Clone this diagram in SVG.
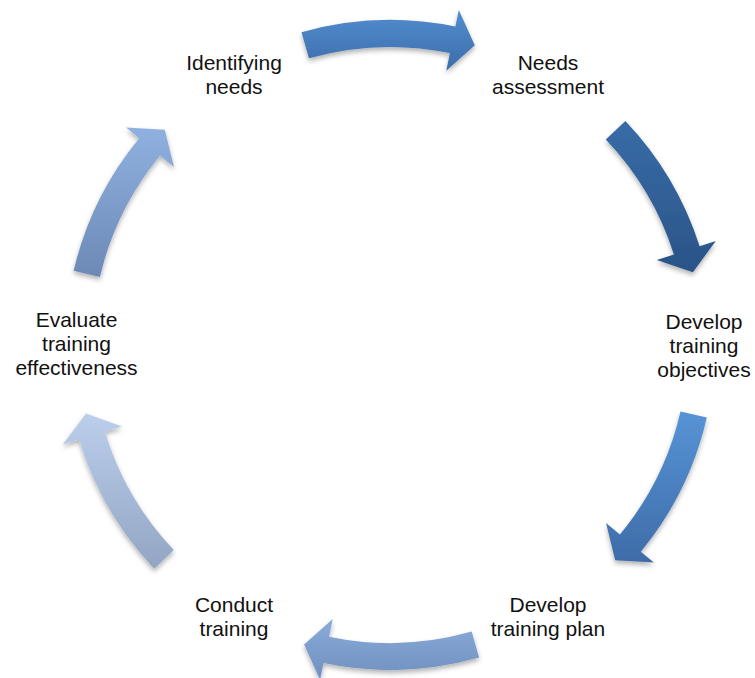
<svg xmlns="http://www.w3.org/2000/svg" width="755" height="678" viewBox="0 0 755 678">
  <style>
    .label { font-family: "Liberation Sans", Arial, sans-serif; font-size: 21px; fill: #111111; text-anchor: middle; }
    .arrow { filter: url(#shade); }
  </style>
  <defs>
    <filter id="shade" x="-20%" y="-20%" width="140%" height="150%">
      <feDropShadow dx="0" dy="3" stdDeviation="2.5" flood-color="#000000" flood-opacity="0.3"/>
    </filter>
    <linearGradient id="g1" x1="0" y1="0" x2="0" y2="1">
      <stop offset="0" stop-color="#538ECF"/>
      <stop offset="1" stop-color="#3C6CAA"/>
    </linearGradient>
    <linearGradient id="g2" x1="0" y1="0" x2="0" y2="1">
      <stop offset="0" stop-color="#386CA7"/>
      <stop offset="1" stop-color="#2A5487"/>
    </linearGradient>
    <linearGradient id="g3" x1="0" y1="0" x2="0" y2="1">
      <stop offset="0" stop-color="#5794D6"/>
      <stop offset="1" stop-color="#3E6CA8"/>
    </linearGradient>
    <linearGradient id="g4" x1="0" y1="0" x2="0" y2="1">
      <stop offset="0" stop-color="#8AACDA"/>
      <stop offset="1" stop-color="#7090C0"/>
    </linearGradient>
    <linearGradient id="g5" x1="0" y1="0" x2="0" y2="1">
      <stop offset="0" stop-color="#BBCFEC"/>
      <stop offset="1" stop-color="#92A5C3"/>
    </linearGradient>
    <linearGradient id="g6" x1="0" y1="0" x2="0" y2="1">
      <stop offset="0" stop-color="#90B1E0"/>
      <stop offset="1" stop-color="#6C89B5"/>
    </linearGradient>
  </defs>

  <!-- curved arrows around a common centre (390, 345) -->
  <g id="connectors">
    <path class="arrow" fill="url(#g1)" d="M301.5,32.3 A325,325 0 0 1 455.4,26.6 L458.8,10.0 L474.8,45.3 L446.3,70.7 L449.9,53.1 A298,298 0 0 0 308.9,58.3 Z"/>
    <path class="arrow" fill="url(#g2)" d="M625.4,120.9 A325,325 0 0 1 699.6,246.2 L715.8,241.0 L692.9,272.3 L656.8,259.9 L673.9,254.4 A298,298 0 0 0 605.8,139.5 Z"/>
    <path class="arrow" fill="url(#g3)" d="M706.8,417.6 A325,325 0 0 1 640.8,551.7 L653.9,562.5 L615.2,560.2 L606.0,523.1 L619.9,534.6 A298,298 0 0 0 680.5,411.5 Z"/>
    <path class="arrow" fill="url(#g4)" d="M479.1,657.6 A325,325 0 0 1 323.5,663.1 L320.1,679.8 L304.1,644.4 L332.7,619.1 L329.1,636.7 A298,298 0 0 0 471.7,631.6 Z"/>
    <path class="arrow" fill="url(#g5)" d="M154.2,568.7 A325,325 0 0 1 79.0,439.5 L62.8,444.4 L86.1,413.5 L122.1,426.4 L104.9,431.6 A298,298 0 0 0 173.8,550.1 Z"/>
    <path class="arrow" fill="url(#g6)" d="M73.6,270.8 A325,325 0 0 1 139.2,138.3 L126.1,127.5 L164.8,129.8 L174.0,166.9 L160.1,155.4 A298,298 0 0 0 99.9,276.9 Z"/>
  </g>

  <g id="identifying-needs">
    <text class="label" x="234" y="69.5">Identifying</text>
    <text class="label" x="234" y="93.5">needs</text>
  </g>
  <g id="needs-assessment">
    <text class="label" x="548" y="69.5">Needs</text>
    <text class="label" x="548" y="93.5">assessment</text>
  </g>
  <g id="develop-training-objectives">
    <text class="label" x="704" y="328.5">Develop</text>
    <text class="label" x="704" y="352.5">training</text>
    <text class="label" x="704" y="376.5">objectives</text>
  </g>
  <g id="develop-training-plan">
    <text class="label" x="548" y="611.5">Develop</text>
    <text class="label" x="548" y="635.5">training plan</text>
  </g>
  <g id="conduct-training">
    <text class="label" x="234" y="611.5">Conduct</text>
    <text class="label" x="234" y="635.5">training</text>
  </g>
  <g id="evaluate-training-effectiveness">
    <text class="label" x="76.5" y="327">Evaluate</text>
    <text class="label" x="76.5" y="351">training</text>
    <text class="label" x="76.5" y="375">effectiveness</text>
  </g>
</svg>
